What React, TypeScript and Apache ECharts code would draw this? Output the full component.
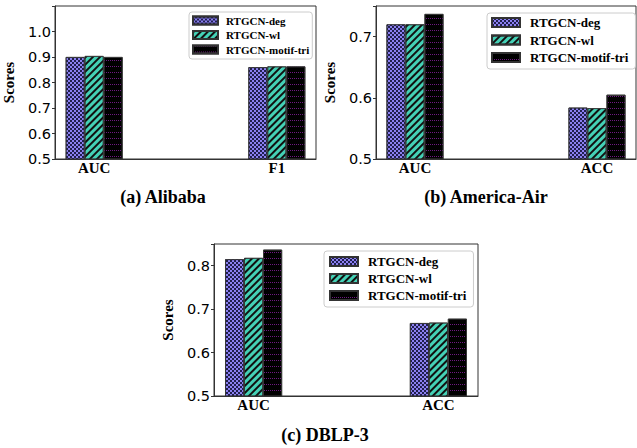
import React, { useEffect, useRef } from "react";
import * as echarts from "echarts";

const methods = ["RTGCN-deg", "RTGCN-wl", "RTGCN-motif-tri"];

const metricsA = ["AUC", "F1"];
const alibabaDeg = [0.9, 0.86];
const alibabaWl = [0.904, 0.863];
const alibabaMotif = [0.9, 0.863];
const yTicksA = ["0.5", "0.6", "0.7", "0.8", "0.9", "1.0"];

const metricsB = ["AUC", "ACC"];
const americaDeg = [0.72, 0.584];
const americaWl = [0.72, 0.583];
const americaMotif = [0.737, 0.605];
const yTicksB = ["0.5", "0.6", "0.7"];

const metricsC = ["AUC", "ACC"];
const dblpDeg = [0.815, 0.668];
const dblpWl = [0.818, 0.669];
const dblpMotif = [0.837, 0.678];
const yTicksC = ["0.5", "0.6", "0.7", "0.8"];

const captions = ["(a) Alibaba", "(b) America-Air", "(c) DBLP-3"];

const SLOTS = 10;
const SLOT_POS = [1, 8];

const SERIF = "'Liberation Serif', 'Times New Roman', serif";
const SANS = "'DejaVu Sans', sans-serif";

function slotCats(metrics: string[]) {
  const c: string[] = [];
  for (let i = 0; i < SLOTS; i++) c.push("_" + i);
  metrics.forEach((m, i) => (c[SLOT_POS[i]] = m));
  return c;
}
function slotData(vals: number[]) {
  const d: (number | string)[] = [];
  for (let i = 0; i < SLOTS; i++) d.push("-");
  vals.forEach((v, i) => (d[SLOT_POS[i]] = v));
  return d;
}

const styles = [
  {
    color: "#8b80f0",
    borderColor: "#333",
    borderWidth: 0.8,
    decal: {
      symbol: "rect",
      symbolSize: 1,
      dashArrayX: [[2, 2], [0, 2, 2, 0]],
      dashArrayY: [2, 0],
      color: "rgba(20,20,60,0.9)",
    },
  },
  {
    color: "#44d1b6",
    borderColor: "#333",
    borderWidth: 0.8,
    decal: {
      symbol: "rect",
      symbolSize: 1,
      dashArrayX: [1, 0],
      dashArrayY: [1.3, 3],
      rotation: -Math.PI / 4,
      color: "#111",
    },
  },
  {
    color: "#000",
    borderColor: "#333",
    borderWidth: 0.8,
    decal: {
      symbol: "rect",
      symbolSize: 1,
      dashArrayX: [1, 1],
      dashArrayY: [1, 5],
      color: "#6e1a80",
    },
  },
];

export default function App() {
  const ref = useRef<HTMLDivElement>(null);
  useEffect(() => {
    const chart = echarts.init(ref.current!, null, { renderer: "svg" });
    const panels = [
      { metrics: metricsA, vals: [alibabaDeg, alibabaWl, alibabaMotif], ticks: yTicksA, max: 1.1,
        grid: { left: 52, top: 6, width: 264, height: 153 },
        legend: { left: 189, top: 12, iw: 25, ih: 8, gap: 3.5, fs: 11, pad: [3, 3, 4, 3], tp: 3 },
        cap: [163, 197] },
      { metrics: metricsB, vals: [americaDeg, americaWl, americaMotif], ticks: yTicksB, max: 0.75,
        grid: { left: 376, top: 6, width: 260, height: 153 },
        legend: { left: 487, top: 13, iw: 28, ih: 9, gap: 4.5, fs: 13, pad: [3, 7, 5, 4], tp: 5 },
        cap: [486, 197] },
      { metrics: metricsC, vals: [dblpDeg, dblpWl, dblpMotif], ticks: yTicksC, max: 0.85,
        grid: { left: 214, top: 244, width: 264, height: 152 },
        legend: { left: 324, top: 251, iw: 28, ih: 9, gap: 4, fs: 13, pad: [4, 7, 5, 5], tp: 5 },
        cap: [325, 435] },
    ];
    const option: any = {
      animation: false,
      grid: panels.map((p) => ({ ...p.grid, show: true, borderColor: "#333", borderWidth: 1, backgroundColor: "transparent" })),
      xAxis: panels.map((p, i) => ({
        type: "category",
        gridIndex: i,
        data: slotCats(p.metrics),
        axisLine: { show: true, lineStyle: { color: "#333" } },
        axisTick: { show: false },
        axisLabel: {
          interval: 0,
          margin: 1,
          formatter: (v: string) => (v.startsWith("_") ? "" : v),
          fontFamily: SERIF,
          fontWeight: "bold",
          fontSize: 15,
          color: "#000",
        },
      })),
      yAxis: panels.map((p, i) => ({
        type: "value",
        gridIndex: i,
        min: 0.5,
        max: p.max,
        interval: 0.1,
        name: "Scores",
        nameLocation: "middle",
        nameGap: 39,
        nameTextStyle: { fontFamily: SERIF, fontWeight: "bold", fontSize: 15, color: "#000" },
        splitLine: { show: false },
        axisLine: { show: true, lineStyle: { color: "#333" } },
        axisTick: { show: true, length: 3, lineStyle: { color: "#333" } },
        axisLabel: {
          margin: 4,
          fontFamily: SANS,
          fontSize: 14.5,
          color: "#000",
          showMaxLabel: true,
          formatter: (v: number) => {
            const s = v.toFixed(1);
            return p.ticks.includes(s) && Math.abs(v - parseFloat(s)) < 1e-6 ? s : "";
          },
        },
      })),
      legend: panels.map((p) => ({
        data: methods,
        orient: "vertical",
        left: p.legend.left,
        top: p.legend.top,
        itemWidth: p.legend.iw,
        itemHeight: p.legend.ih,
        itemGap: p.legend.gap,
        padding: p.legend.pad,
        borderColor: "#ccc",
        borderWidth: 1,
        borderRadius: 3,
        backgroundColor: "rgba(255,255,255,0.85)",
        icon: "rect",
        selectedMode: false,
        textStyle: { fontFamily: SERIF, fontWeight: "bold", fontSize: p.legend.fs, color: "#000", padding: [0, 0, 0, p.legend.tp] },
      })),
      series: panels.flatMap((p, gi) =>
        methods.map((m, k) => ({
          type: "bar",
          name: m,
          xAxisIndex: gi,
          yAxisIndex: gi,
          data: slotData(p.vals[k]),
          barWidth: 19,
          barGap: "0%",
          itemStyle: styles[k],
        }))
      ),
      graphic: panels.map((p, i) => ({
        type: "text",
        x: p.cap[0],
        y: p.cap[1],
        style: {
          text: captions[i],
          textAlign: "center",
          textVerticalAlign: "middle",
          font: `bold 18px ${SERIF}`,
          fill: "#000",
        },
      })),
    };
    chart.setOption(option);
    return () => chart.dispose();
  }, []);
  return (
    <div
      ref={ref}
      style={{ position: "fixed", left: 0, top: 0, width: 637, height: 448, background: "#fff" }}
    />
  );
}
